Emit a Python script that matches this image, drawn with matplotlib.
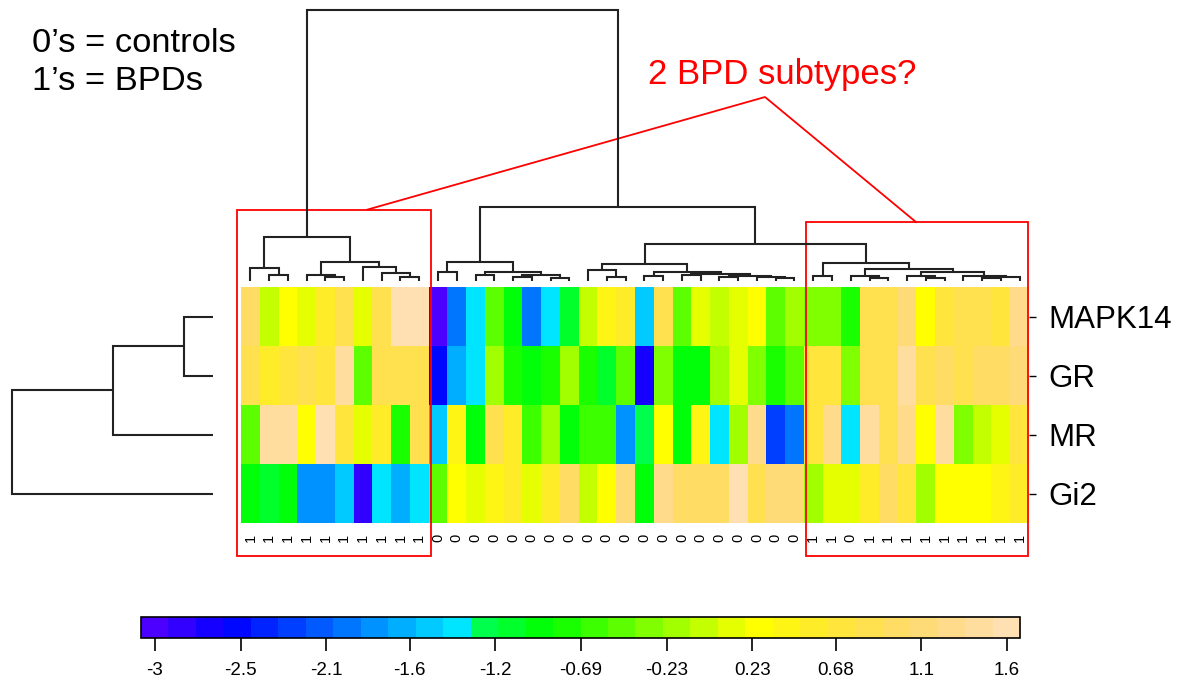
import colorsys
import numpy as np
import matplotlib
matplotlib.use("Agg")
import matplotlib.pyplot as plt
from matplotlib.colors import ListedColormap, BoundaryNorm
from matplotlib.patches import Rectangle
from matplotlib.colorbar import ColorbarBase
from matplotlib.ticker import NullLocator

plt.rcParams["font.family"] = ["Liberation Sans", "DejaVu Sans"]

# ---- data ---------------------------------------------------------------
genes = ["MAPK14", "GR", "MR", "Gi2"]
# 1 = BPD, 0 = control (column order as in the clustered heatmap)
groups = [1] * 10 + [0] * 20 + [1, 1, 0, 1, 1, 1, 1, 1, 1, 1, 1, 1]

mapk14 = [1.00, -0.03, 0.27, 0.12, 0.56, 0.86, 0.12, 0.86, 1.60, 1.60,
          -2.98, -1.95, -1.36, -0.47, -0.91, -1.95, -1.36, -1.06, -0.03, 0.41,
          0.56, -1.50, 0.86, -0.47, 0.12, -0.03, 0.12, 0.27, -0.47, -0.18,
          -0.32, -0.32, -0.77, 0.86, 0.86, 1.15, 0.27, 0.71, 0.86, 0.86, 0.71, 1.30]
gr = [0.86, 0.56, 0.71, 0.86, 0.71, 1.45, -0.47, 0.86, 0.86, 0.86,
      -2.54, -1.65, -1.36, -0.18, -0.77, -0.91, -0.77, -0.18, -0.77, -1.06,
      -0.47, -2.69, -0.32, -0.91, -0.91, -0.18, 0.12, -0.32, -0.77, -0.47,
      0.71, 0.71, -0.32, 0.86, 0.86, 1.45, 0.86, 1.00, 0.86, 1.00, 1.00, 1.15]
mr = [-0.47, 1.45, 1.45, 0.27, 1.60, 0.71, 0.12, 0.56, -0.77, 0.86,
      -1.50, 0.41, -0.91, 0.86, 0.56, -0.62, -0.18, -0.91, -0.62, -0.62,
      -1.80, -1.21, 0.27, -0.91, 0.41, -1.36, -0.18, 1.30, -2.24, -1.95,
      0.71, 1.30, -1.36, 1.45, 0.86, 1.30, 0.27, 1.45, -0.32, -0.03, 0.12, 0.71]
gi2 = [-0.91, -1.06, -0.91, -1.80, -1.80, -1.50, -2.83, -1.36, -1.65, -1.36,
       -0.47, 0.27, 0.12, 0.41, 0.56, 0.12, 0.56, 1.00, -0.03, 0.27,
       1.15, -0.91, 1.30, 1.00, 1.00, 1.00, 1.60, 0.86, 1.15, 1.15,
       -0.18, 0.12, 0.12, 0.56, 1.00, 0.71, -0.18, 0.27, 0.27, 0.27, 0.41, 0.56]

# dendrograms as (left, right, height); ints are leaf indices
tree_bpd_a = ((0, (1, 2, 6), 13),
              ((3, (4, 5, 4), 6), (6, (7, (8, 9, 4), 8), 14), 19), 44)
tree_ctrl_a = ((10, 11, 9), ((12, 13, 6), ((14, 15, 4), (16, 17, 3), 6), 9), 19)
tree_ctrl_b = ((18, (19, 20, 4), 11),
               ((21, 22, 5), ((23, 24, 6), ((25, 26, 4), (27, (28, 29, 3), 4), 5), 7), 9), 17)
tree_bpd_b = ((30, 31, 5),
              ((32, (33, 34, 3), 5),
               ((35, (36, 37, 3), 5), (38, ((39, 40, 3), 41, 4), 5), 9), 12), 18)
col_tree = (tree_bpd_a, (tree_ctrl_a, (tree_ctrl_b, tree_bpd_b, 37), 74), 271)
row_tree = (((0, 1, 29), 2, 100), 3, 201)

scale_lo, scale_hi, n_colors = -3.055, 1.67, 32
cbar_ticks = [-2.98, -2.52, -2.06, -1.61, -1.15, -0.69, -0.23, 0.23, 0.68, 1.14, 1.60]
cbar_labels = ["-3", "-2.5", "-2.1", "-1.6", "-1.2", "-0.69", "-0.23",
               "0.23", "0.68", "1.1", "1.6"]


# ---- helpers ------------------------------------------------------------
def topo_colors(n):
    """Same palette as R's topo.colors(n)."""
    j = n // 3
    k = n // 3
    i = n - j - k
    cols = [colorsys.hsv_to_rgb(h, 1, 1) for h in np.linspace(43 / 60, 31 / 60, i)]
    cols += [colorsys.hsv_to_rgb(h, 1, 1) for h in np.linspace(23 / 60, 11 / 60, j)]
    cols += [colorsys.hsv_to_rgb(h, s, 1)
             for h, s in zip(np.linspace(10 / 60, 6 / 60, k), np.linspace(1, 0.3, k))]
    return cols


def draw_tree(ax, node, sideways=False):
    if isinstance(node, int):
        return node + 0.5, 0.0
    left, right, h = node
    xl, hl = draw_tree(ax, left, sideways)
    xr, hr = draw_tree(ax, right, sideways)
    pos = [xl, xl, xr, xr]
    hgt = [hl, h, h, hr]
    if sideways:
        pos, hgt = hgt, pos
    ax.plot(pos, hgt, color="#222222", lw=1.5, solid_capstyle="butt",
            solid_joinstyle="miter", clip_on=False)
    return (xl + xr) / 2, h


W, H = 1186, 684
fig = plt.figure(figsize=(W / 100, H / 100), dpi=100)

cmap = ListedColormap(topo_colors(n_colors))
bounds = np.linspace(scale_lo, scale_hi, n_colors + 1)
norm = BoundaryNorm(bounds, n_colors)

# ---- heatmap ------------------------------------------------------------
data = np.array([mapk14, gr, mr, gi2])
n_rows, n_cols = data.shape
ax = fig.add_axes([241 / W, 161 / H, 788 / W, 236 / H])
ax.pcolormesh(np.arange(n_cols + 1), np.arange(n_rows + 1), data,
              cmap=cmap, norm=norm, edgecolors="none")
ax.set_xlim(0, n_cols)
ax.set_ylim(n_rows, 0)
for s in ax.spines.values():
    s.set_visible(False)
ax.set_xticks(np.arange(n_cols) + 0.5)
ax.set_xticklabels([str(g) for g in groups], rotation=90, fontsize=10.5)
ax.tick_params(axis="x", length=0, pad=8)
ax.yaxis.tick_right()
ax.set_yticks(np.arange(n_rows) + 0.5)
ax.set_yticklabels(genes, fontsize=22.5)
ax.tick_params(axis="y", length=5, width=1, pad=9)

# ---- column dendrogram --------------------------------------------------
axc = fig.add_axes([241 / W, 403 / H, 788 / W, 271 / H])
draw_tree(axc, col_tree)
axc.set_xlim(0, n_cols)
axc.set_ylim(0, col_tree[2])
axc.axis("off")

# ---- row dendrogram -----------------------------------------------------
axr = fig.add_axes([12 / W, 161 / H, 201 / W, 236 / H])
draw_tree(axr, row_tree, sideways=True)
axr.set_ylim(n_rows, 0)
axr.set_xlim(row_tree[2], 0)
axr.axis("off")

# ---- colour key ---------------------------------------------------------
axk = fig.add_axes([141 / W, 46 / H, 879 / W, 21 / H])
cb = ColorbarBase(axk, cmap=cmap, norm=norm, orientation="horizontal",
                  boundaries=bounds, ticks=cbar_ticks)
cb.set_ticklabels(cbar_labels)
cb.outline.set_linewidth(1.2)
axk.xaxis.set_minor_locator(NullLocator())
axk.tick_params(which="minor", length=0)
axk.tick_params(which="major", length=9, width=1.2, labelsize=13.5, pad=8)

# ---- annotations --------------------------------------------------------
red = "#ff0000"
ax.add_patch(Rectangle((-0.21, -1.31), 10.34, 5.87, fill=False, ec=red, lw=1.3, clip_on=False))
ax.add_patch(Rectangle((30.12, -1.10), 11.83, 5.66, fill=False, ec=red, lw=1.3, clip_on=False))
ax.plot([6.72, 27.93, 35.98], [-1.31, -3.22, -1.10], color=red, lw=1.3, clip_on=False)

fig.text(648 / W, 1 - 84 / H, "2 BPD subtypes?", color=red, fontsize=25, va="baseline")
fig.text(32 / W, 1 - 52 / H, "0\u2019s = controls", fontsize=24.8, va="baseline")
fig.text(32 / W, 1 - 90 / H, "1\u2019s = BPDs", fontsize=24.8, va="baseline")

fig.savefig("out.png", dpi=100, facecolor="white")
